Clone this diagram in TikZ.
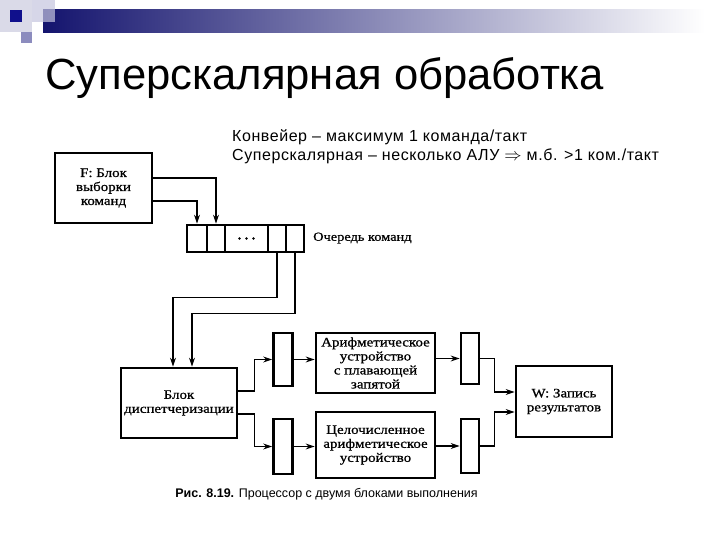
\documentclass[tikz,border=0pt]{standalone}
\usepackage{fontspec}
\setmainfont{Liberation Sans}
\newfontfamily\dfont[FakeStretch=1.15,FakeBold=0.8]{Liberation Serif}
\newfontfamily\subfont[LetterSpace=3.5]{Liberation Sans}
\usetikzlibrary{arrows.meta,calc}
\definecolor{navybar}{RGB}{20,20,110}
\definecolor{paleA}{RGB}{218,218,232}
\definecolor{paleB}{RGB}{196,196,222}
\definecolor{midL}{RGB}{140,140,190}
\definecolor{darkSq}{RGB}{16,16,140}
\tikzset{
  blk/.style={draw,line width=2.7pt,inner sep=0pt,align=center,font=\dfont\fontsize{13}{14}\selectfont},
  cell/.style={draw,line width=2.7pt,inner sep=0pt,minimum height=27pt},
  arr/.style={line width=1.1pt,-{Stealth[length=9pt,width=6pt]}},
}
\begin{document}
\begin{tikzpicture}[x=1pt,y=-1pt]
\useasboundingbox (0,0) rectangle (720,540);
% header decoration
\fill[paleA] (0,0) rectangle (32,32);
\shade[left color=navybar,right color=white] (43,10) rectangle (705,33);
\fill[paleB,opacity=0.7] (32,0) rectangle (55,22);
\fill[darkSq] (10,10) rectangle (22,22);
\fill[midL] (21,32) rectangle (32,43);
% title
\node[anchor=base west,inner sep=0pt,font=\fontsize{43.6}{46}\selectfont] (title) at (45,90) {Суперскалярная обработка};
\node[anchor=base west,inner sep=0pt,font=\subfont\fontsize{16}{17}\selectfont] (sub1) at (232,142)
  {Конвейер – максимум 1 команда/такт};
\node[anchor=base west,inner sep=0pt,font=\subfont\fontsize{16}{17}\selectfont] (sub2) at (232,161)
  {Суперскалярная – несколько АЛУ $\Rightarrow$ м.б. >1 ком./такт};
% blocks
\node[blk,minimum width=97pt,minimum height=70pt] (F) at (103.5,188) {F: Блок\\выборки\\команд};
\node[cell,minimum width=20pt] (q1) at (197,238.5) {};
\node[cell,minimum width=18pt] (q2) at (216,238.5) {};
\node[cell,minimum width=43pt] (q3) at (246.5,238.5) {};
\node[cell,minimum width=18pt] (q4) at (277,238.5) {};
\node[cell,minimum width=18pt] (q5) at (295,238.5) {};
\fill ([xshift=-7pt]q3.center) circle (1.4pt) (q3.center) circle (1.4pt) ([xshift=7pt]q3.center) circle (1.4pt);
\node[anchor=west,inner sep=0pt,font=\dfont\fontsize{12.5}{13.5}\selectfont] (ql) at (313,238) {Очередь команд};
\node[blk,minimum width=116pt,minimum height=70pt] (D) at (179,403) {Блок\\диспетчеризации};
\node[cell,minimum width=19pt,minimum height=53pt] (B1) at (283,359.5) {};
\node[cell,minimum width=19pt,minimum height=55pt] (B2) at (283,446.5) {};
\node[blk,minimum width=119pt,minimum height=60pt] (FP) at (375.5,363) {Арифметическое\\устройство\\с плавающей\\запятой};
\node[blk,minimum width=119pt,minimum height=66pt] (IU) at (375.5,445) {Целочисленное\\арифметическое\\устройство};
\node[cell,minimum width=18pt,minimum height=51pt] (B3) at (470,358.5) {};
\node[cell,minimum width=18pt,minimum height=54pt] (B4) at (470,446) {};
\node[blk,minimum width=96pt,minimum height=71pt] (W) at (564,401.5) {W: Запись\\результатов};
% connectors
\draw[arr] ([yshift=10pt]F.east) -| (q2.north);
\draw[arr] ([yshift=-13pt]F.east) -| (q1.north);
\draw[arr] (q4.south) -- ++(0,44) -| ([xshift=-6pt]D.north);
\draw[arr] (q5.south) -- ++(0,60) -| ([xshift=13pt]D.north);
\draw[arr] ([yshift=12pt]D.east) -- ++(16,0) |- (B1.west);
\draw[arr] ([yshift=-11pt]D.east) -- ++(16,0) |- (B2.west);
\draw[arr] (B1.east) -- (B1.east -| FP.west);
\draw[arr] (B2.east) -- (B2.east -| IU.west);
\draw[arr] (FP.east |- B3.west) -- (B3.west);
\draw[arr] (IU.east |- B4.west) -- (B4.west);
\draw[arr] (B3.east) -- ++(14,0) |- ([yshift=9.5pt]W.west);
\draw[arr] (B4.east) -- ++(14,0) |- ([yshift=-10.5pt]W.west);
% caption
\node[anchor=base,inner sep=0pt,font=\fontsize{12.5}{14}\selectfont] (cap) at (326.5,497) {\textbf{Рис. 8.19.} Процессор с двумя блоками выполнения};
\end{tikzpicture}
\end{document}
